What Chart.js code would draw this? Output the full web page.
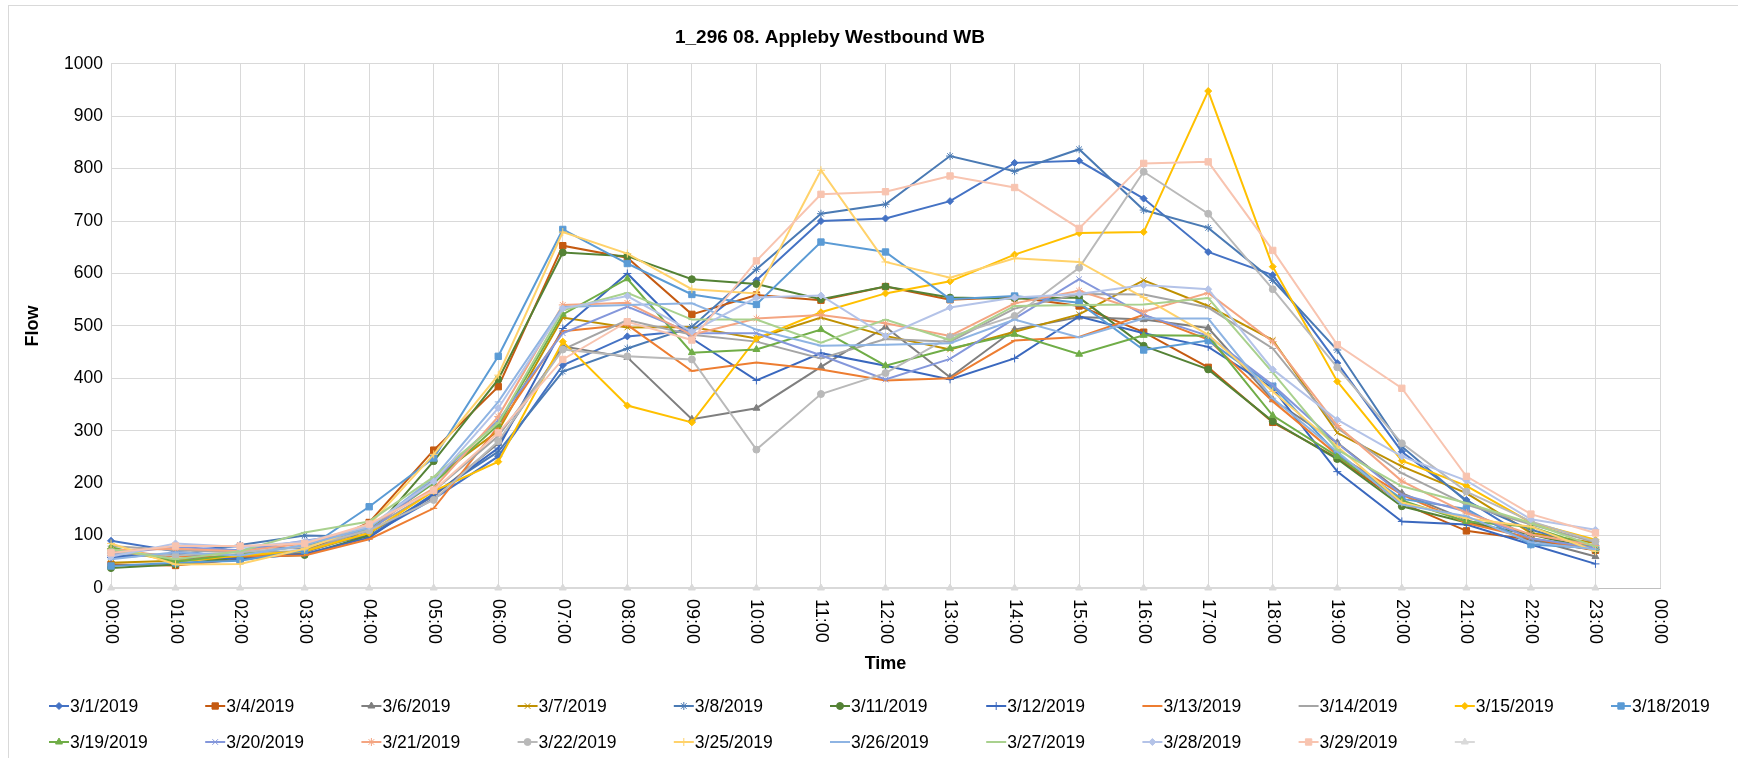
<!DOCTYPE html>
<html>
<head>
<meta charset="utf-8">
<script src="https://cdn.jsdelivr.net/npm/chart.js@4.4.0/dist/chart.umd.min.js"></script>
<style>
    html, body { margin: 0; padding: 0; background: #fff; }
    #frame { position: absolute; left: 8px; top: 5px; width: 1760px; height: 780px; border: 1px solid #D9D9D9; }
    #myChart { position: absolute; left: 0; top: 0; }
</style>
</head>
<body>
<div id="frame"></div>
<canvas id="myChart" width="1738" height="758"></canvas>
<script>
// tick labels and series names
var hours = ['00:00', '01:00', '02:00', '03:00', '04:00', '05:00', '06:00', '07:00', '08:00', '09:00', '10:00', '11:00',
    '12:00', '13:00', '14:00', '15:00', '16:00', '17:00', '18:00', '19:00', '20:00', '21:00', '22:00', '23:00', '00:00'];
var dates = ['3/1/2019', '3/4/2019', '3/6/2019', '3/7/2019', '3/8/2019', '3/11/2019', '3/12/2019', '3/13/2019',
    '3/14/2019', '3/15/2019', '3/18/2019', '3/19/2019', '3/20/2019', '3/21/2019', '3/22/2019', '3/25/2019',
    '3/26/2019', '3/27/2019', '3/28/2019', '3/29/2019', ''];

// hourly flow, one array per day
var flow0301 = [90, 70, 80, 75, 100, 170, 251, 425, 480, 491, 587, 700, 705, 738, 811, 815, 743, 641, 597, 429, 260, 168, 92, 73];
var flow0304 = [45, 43, 55, 68, 125, 263, 384, 653, 630, 522, 559, 549, 575, 550, 555, 538, 488, 421, 316, 248, 162, 109, 92, 72];
var flow0306 = [70, 55, 62, 68, 105, 175, 276, 461, 440, 322, 343, 422, 498, 402, 493, 517, 512, 496, 359, 277, 181, 130, 93, 60];
var flow0307 = [48, 52, 58, 72, 110, 208, 300, 516, 497, 498, 476, 516, 481, 455, 489, 522, 587, 538, 473, 296, 232, 181, 105, 86];
var flow0308 = [62, 62, 82, 100, 98, 180, 260, 413, 457, 498, 608, 714, 732, 824, 795, 837, 721, 687, 587, 454, 270, 165, 111, 78];
var flow0311 = [38, 45, 58, 63, 100, 242, 398, 640, 633, 589, 580, 551, 575, 554, 552, 554, 462, 417, 318, 246, 156, 125, 102, 74];
var flow0312 = [58, 65, 55, 65, 96, 178, 267, 495, 600, 476, 396, 448, 424, 398, 438, 518, 486, 460, 381, 222, 127, 121, 83, 46];
var flow0313 = [72, 60, 60, 62, 93, 152, 308, 490, 502, 414, 430, 417, 396, 400, 472, 479, 521, 474, 356, 254, 178, 124, 95, 73];
var flow0314 = [80, 72, 68, 70, 112, 185, 290, 455, 511, 483, 470, 438, 475, 470, 533, 561, 560, 535, 457, 305, 219, 159, 121, 87];
var flow0315 = [75, 50, 62, 70, 105, 185, 241, 470, 348, 316, 476, 526, 562, 585, 636, 677, 679, 948, 613, 394, 243, 195, 125, 92];
var flow0318 = [42, 48, 52, 72, 155, 248, 442, 684, 619, 560, 541, 660, 641, 551, 557, 544, 454, 472, 385, 256, 170, 151, 83, 76];
var flow0319 = [78, 50, 65, 80, 115, 200, 311, 522, 590, 449, 455, 493, 424, 457, 484, 446, 482, 481, 329, 251, 167, 127, 117, 76];
var flow0320 = [65, 78, 72, 90, 108, 205, 320, 486, 537, 486, 486, 444, 398, 437, 514, 589, 521, 481, 387, 276, 178, 146, 95, 77];
var flow0321 = [72, 75, 70, 85, 118, 190, 327, 540, 544, 483, 514, 521, 505, 481, 543, 567, 527, 563, 470, 310, 204, 143, 102, 81];
var flow0322 = [68, 62, 68, 78, 110, 168, 280, 455, 442, 436, 264, 370, 410, 479, 519, 611, 794, 714, 570, 421, 276, 184, 127, 89];
var flow0325 = [85, 45, 46, 75, 120, 255, 406, 679, 638, 570, 562, 797, 622, 592, 629, 622, 554, 483, 375, 270, 163, 133, 117, 70];
var flow0326 = [55, 68, 62, 82, 115, 210, 355, 536, 540, 543, 493, 462, 464, 467, 512, 478, 514, 514, 362, 260, 159, 137, 87, 74];
var flow0327 = [74, 55, 70, 106, 127, 212, 315, 530, 563, 512, 512, 468, 512, 473, 538, 540, 541, 553, 411, 264, 194, 162, 124, 79];
var flow0328 = [60, 85, 78, 88, 118, 203, 343, 533, 557, 489, 554, 558, 481, 535, 554, 561, 578, 570, 417, 321, 251, 205, 131, 111];
var flow0329 = [67, 80, 80, 85, 122, 186, 296, 436, 508, 473, 624, 751, 756, 786, 764, 686, 810, 813, 644, 464, 381, 213, 141, 105];
var flowBlank = [0, 0, 0, 0, 0, 0, 0, 0, 0, 0, 0, 0, 0, 0, 0, 0, 0, 0, 0, 0, 0, 0, 0, 0];

var FONT = "'Liberation Sans', Arial, sans-serif";

var colors = ['#4472C4', '#C55A11', '#7F7F7F', '#BF9000', '#4A7AB4', '#548235', '#3A68BE', '#ED7D31', '#A5A5A5',
    '#FFC000', '#5B9BD5', '#70AD47', '#8497DB', '#F4A582', '#B9B9B9', '#FFD26B', '#8EB4E3', '#A9D18E', '#B4C3E8',
    '#F8C4B0', '#D9D9D9'];
var markers = ['rectRot', 'rect', 'triangle', 'crossRot', 'star', 'circle', 'cross', 'line', 'line'];
var markerSize = { rectRot: 3.5, rect: 4.5, triangle: 4, crossRot: 4, star: 4, circle: 3.5, cross: 4, line: 3.5 };

function init() {
    var series = [flow0301, flow0304, flow0306, flow0307, flow0308, flow0311, flow0312, flow0313, flow0314, flow0315,
        flow0318, flow0319, flow0320, flow0321, flow0322, flow0325, flow0326, flow0327, flow0328, flow0329, flowBlank];

    var data = { labels: hours, datasets: [] };
    for (var i = 0; i < series.length; i++) {
        var style = markers[i % markers.length];
        data.datasets.push({
            label: dates[i],
            data: series[i],
            borderColor: colors[i],
            backgroundColor: colors[i],
            pointBackgroundColor: colors[i],
            pointBorderColor: colors[i],
            pointStyle: style,
            pointRadius: markerSize[style],
            pointBorderWidth: 1,
            borderWidth: 2,
            tension: 0,
            clip: false,
            order: series.length - i
        });
    }

    // x tick labels (rotated clockwise) and the legend grid
    var extras = {
        id: 'extras',
        afterDraw: function (chart) {
            var ctx = chart.ctx;
            var xs = chart.scales.x;
            ctx.save();
            ctx.fillStyle = '#000';
            ctx.font = '18px ' + FONT;
            ctx.textAlign = 'left';
            ctx.textBaseline = 'middle';
            for (var t = 0; t < hours.length; t++) {
                ctx.save();
                ctx.translate(xs.getPixelForTick(t), xs.top + 11);
                ctx.rotate(Math.PI / 2);
                ctx.fillText(hours[t], 0, 0);
                ctx.restore();
            }

            ctx.font = '17.5px ' + FONT;
            var sets = chart.data.datasets;
            for (var k = 0; k < sets.length; k++) {
                var ds = sets[k];
                var lx = 49 + (k % 11) * 156.2;
                var ly = 706 + Math.floor(k / 11) * 36;
                ctx.strokeStyle = ds.borderColor;
                ctx.fillStyle = ds.borderColor;
                ctx.lineWidth = 2;
                ctx.beginPath();
                ctx.moveTo(lx, ly);
                ctx.lineTo(lx + 20, ly);
                ctx.stroke();
                ctx.lineWidth = 1;
                if (Chart.helpers && Chart.helpers.drawPoint) {
                    Chart.helpers.drawPoint(ctx, { pointStyle: ds.pointStyle, radius: ds.pointRadius, rotation: 0, borderWidth: 1 }, lx + 10, ly);
                }
                ctx.fillStyle = '#000';
                ctx.fillText(ds.label, lx + 21, ly + 1);
            }
            ctx.restore();
        }
    };

    var ctx = document.getElementById('myChart');
    var myLineChart = new Chart(ctx, {
        type: 'line',
        data: data,
        plugins: [extras],
        options: {
            responsive: false,
            animation: false,
            devicePixelRatio: 1,
            layout: { padding: { left: 0, right: 78, top: 0, bottom: 80 } },
            plugins: {
                legend: { display: false },
                tooltip: { enabled: false },
                title: {
                    display: true,
                    text: '1_296 08. Appleby Westbound WB',
                    color: '#000',
                    font: { family: FONT, size: 19, weight: 'bold' },
                    padding: { top: 26, bottom: 15 }
                }
            },
            scales: {
                x: {
                    type: 'category',
                    offset: false,
                    grid: { color: '#D9D9D9', drawTicks: false },
                    border: { color: '#BFBFBF' },
                    ticks: { display: false },
                    title: {
                        display: true, text: 'Time', color: '#000',
                        font: { family: FONT, size: 18, weight: 'bold' },
                        padding: { top: 0, bottom: 3 }
                    },
                    afterFit: function (scale) { scale.height = 90; }
                },
                y: {
                    min: 0,
                    max: 1000,
                    grid: { color: '#D9D9D9', drawTicks: false },
                    border: { display: false },
                    ticks: {
                        stepSize: 100, color: '#000', padding: 8, font: { family: FONT, size: 17.5 },
                        callback: function (value) { return String(value); }
                    },
                    title: {
                        display: true, text: 'Flow', color: '#000',
                        font: { family: FONT, size: 18, weight: 'bold' },
                        padding: { top: 22, bottom: 0 }
                    },
                    afterFit: function (scale) { scale.width = 111; }
                }
            }
        }
    });
}

init();
</script>
</body>
</html>
